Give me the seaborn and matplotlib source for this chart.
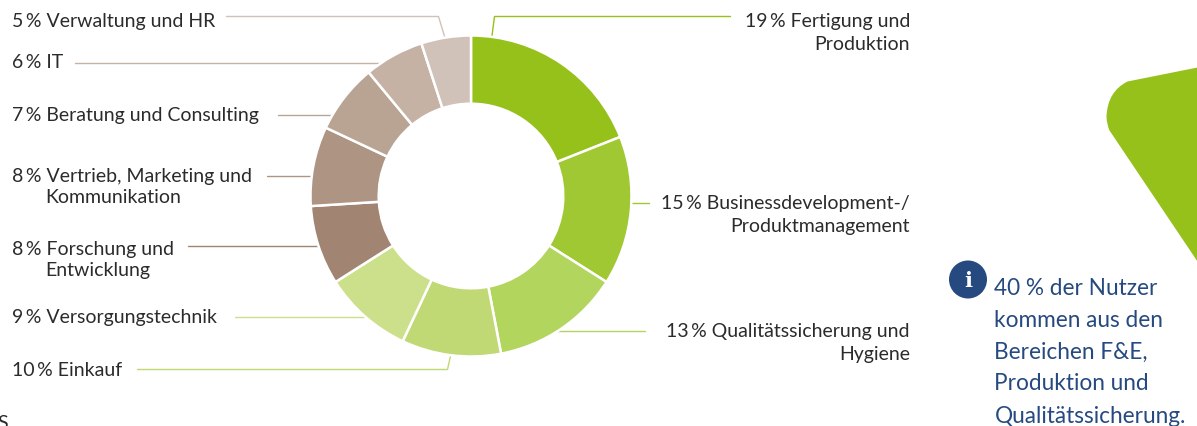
import matplotlib
matplotlib.use('Agg')
import matplotlib.pyplot as plt
import seaborn as sns
from matplotlib.patches import Circle, PathPatch
from matplotlib.path import Path

# Data
shares = [19, 15, 13, 10, 9, 8, 8, 7, 6, 5]
colors = ['#95c11a', '#9fc832', '#b2d55d', '#c0d975', '#cce08c',
          '#a28472', '#ae9482', '#b9a494', '#c5b2a5', '#d0c2b9']

left_labels = ['5\u2009% Verwaltung und HR', '6\u2009% IT', '7\u2009% Beratung und Consulting',
               '8\u2009% Vertrieb, Marketing und', 'Kommunikation',
               '8\u2009% Forschung und', 'Entwicklung',
               '9\u2009% Versorgungstechnik', '10\u2009% Einkauf']
left_y = [27, 68, 121, 182, 203, 254, 276, 323, 376]
left_x = [12, 12, 12, 12, 45, 12, 45, 12, 12]

right_labels = ['19\u2009% Fertigung und', 'Produktion',
                '15\u2009% Businessdevelopment-/', 'Produktmanagement',
                '13\u2009% Qualitätssicherung und', 'Hygiene']
right_y = [27, 50, 209, 232, 337, 360]

note_lines = ['40 % der Nutzer', 'kommen aus den', 'Bereichen F&E,',
              'Produktion und', 'Qualitätssicherung.']
note_y = [295, 327, 358, 390, 423]

# leader lines, one colour per slice (they run a bit under the donut)
leaders = [
    ([730, 494, 491], [17, 17, 40], colors[0]),
    ([648, 625], [203, 203], colors[1]),
    ([644, 550], [331, 331], colors[2]),
    ([137, 447, 451], [370, 370, 352], colors[3]),
    ([234, 372], [317, 317], colors[4]),
    ([187, 325], [246, 246], colors[5]),
    ([266, 318], [176, 176], colors[6]),
    ([277, 340], [115, 115], colors[7]),
    ([74, 390], [63, 63], colors[8]),
    ([226, 438, 445], [17, 17, 40], colors[9]),
]

TEXT = '#2b2b2b'
BLUE = '#264a80'
W, H = 1197, 427

sns.set_theme(style='white')
plt.rcParams['font.family'] = ['Lato', 'DejaVu Sans']

fig = plt.figure(figsize=(W / 100, H / 100), dpi=100, facecolor='white')

# overlay in pixel coordinates for labels and lines
over = fig.add_axes([0, 0, 1, 1])
over.set_xlim(-0.5, W - 0.5)
over.set_ylim(H - 0.5, -0.5)
over.axis('off')

# donut
ax = fig.add_axes([310.5 / W, (H - 357.5) / H, 321 / W, 321 / H])
wedges, _ = ax.pie(shares, colors=sns.color_palette(colors), startangle=90, counterclock=False,
                   radius=1, wedgeprops=dict(width=0.425, edgecolor='white', linewidth=1.8))
ax.set_xlim(-1, 1)
ax.set_ylim(-1, 1)
for w in wedges:
    w.set_clip_on(False)

for xs, ys, c in leaders:
    over.plot(xs, ys, color=c, lw=1)

for s, x, y in zip(left_labels, left_x, left_y):
    over.text(x, y, s, ha='left', va='baseline', fontsize=14, color=TEXT)
for s, y in zip(right_labels, right_y):
    over.text(909.5, y, s, ha='right', va='baseline', fontsize=14, color=TEXT)

# green corner shape
verts = [(1197, 68), (1127, 82), (1107, 92), (1106, 117), (1106, 124), (1109, 131),
         (1197, 262), (1197, 68)]
codes = [Path.MOVETO, Path.LINETO, Path.CURVE3, Path.CURVE3, Path.CURVE3, Path.CURVE3,
         Path.LINETO, Path.CLOSEPOLY]
over.add_patch(PathPatch(Path(verts, codes), facecolor='#95c11a', edgecolor='none'))

# info note
over.add_patch(Circle((967.5, 280), 19, facecolor=BLUE, edgecolor='none'))
over.text(967.5, 281, 'i', ha='center', va='center', fontsize=15, color='white',
          family='DejaVu Serif', fontweight='bold')
for s, y in zip(note_lines, note_y):
    over.text(994, y, s, ha='left', va='baseline', fontsize=16.3, color=BLUE)

# cut off letter at the bottom edge
over.text(-3, 429, 'S', ha='left', va='baseline', fontsize=14, color=TEXT)

fig.savefig('out.png', dpi=100)
